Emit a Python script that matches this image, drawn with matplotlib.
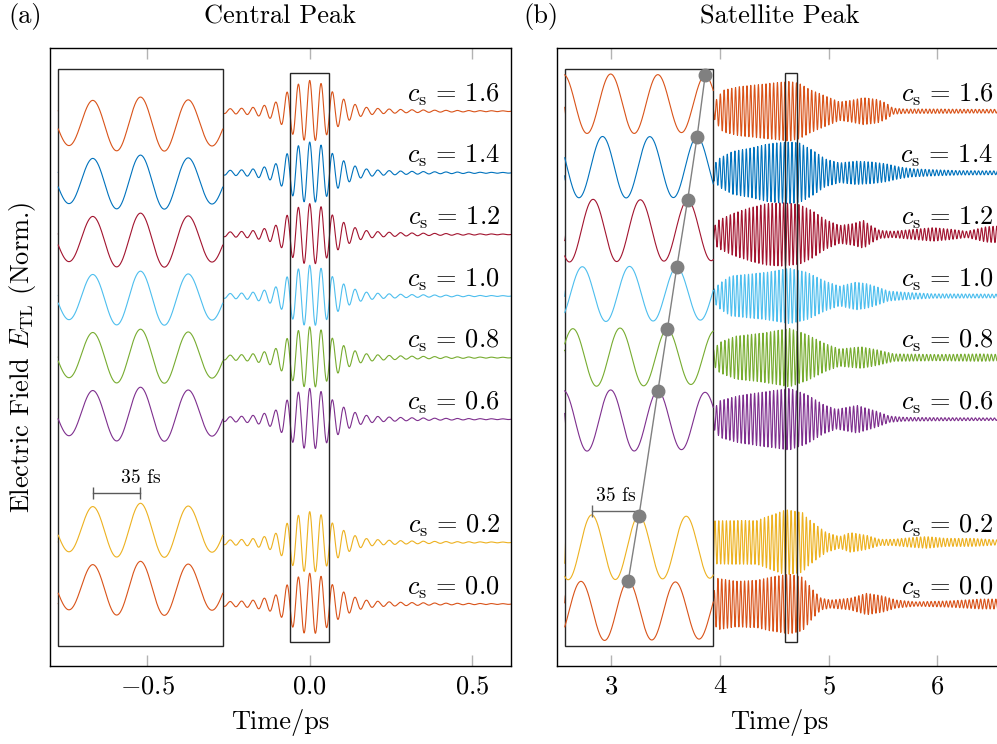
import numpy as np
import matplotlib
matplotlib.use('Agg')
import matplotlib.pyplot as plt
from matplotlib.patches import Rectangle

plt.rcParams['font.family'] = 'serif'
plt.rcParams['font.serif'] = ['cmr10']
plt.rcParams['mathtext.fontset'] = 'cm'
plt.rcParams['axes.unicode_minus'] = False

# THz carrier period in ps (35 fs)
period = 0.035

cs_values = [1.6, 1.4, 1.2, 1.0, 0.8, 0.6, 0.2, 0.0]
colors = ['#D95319', '#0072BD', '#A2142F', '#4DBEEE', '#77AC30', '#7E2F8E', '#EDB120', '#D95319']

# central peak envelope (normalised), same for every c_s
central_t = [-0.80, -0.50, -0.35, -0.25, -0.20, -0.17, -0.14, -0.11, -0.09, -0.07, -0.035, 0.0,
             0.035, 0.07, 0.09, 0.11, 0.13, 0.17, 0.22, 0.30, 0.40, 0.50, 0.62]
central_env = [0.02, 0.03, 0.05, 0.08, 0.10, 0.13, 0.19, 0.26, 0.40, 0.62, 0.88, 1.00,
               0.90, 0.63, 0.48, 0.36, 0.25, 0.13, 0.08, 0.05, 0.03, 0.02, 0.01]

# satellite peak envelopes, one per c_s
sat16_t = [3.94, 3.98, 4.03, 4.18, 4.37, 4.50, 4.64, 4.73, 4.83, 4.98, 5.10, 5.20, 5.32, 5.45, 5.53, 5.59, 5.70, 6.00, 6.30, 6.60]
sat16_a = [0.20, 0.45, 0.68, 0.80, 0.87, 0.92, 0.97, 0.90, 0.70, 0.48, 0.30, 0.35, 0.44, 0.38, 0.26, 0.10, 0.07, 0.07, 0.06, 0.06]
sat14_t = [3.94, 4.00, 4.12, 4.28, 4.43, 4.52, 4.64, 4.73, 4.85, 4.97, 5.10, 5.25, 5.40, 5.53, 5.65, 5.77, 5.96, 6.20, 6.60]
sat14_a = [0.25, 0.48, 0.70, 0.80, 0.93, 0.97, 1.00, 0.97, 0.74, 0.45, 0.32, 0.38, 0.35, 0.29, 0.19, 0.13, 0.10, 0.07, 0.06]
sat12_t = [3.94, 3.98, 4.12, 4.28, 4.43, 4.58, 4.73, 4.85, 4.97, 5.10, 5.22, 5.32, 5.40, 5.47, 5.59, 5.77, 5.96, 6.14, 6.27, 6.45, 6.60]
sat12_a = [0.20, 0.45, 0.68, 0.87, 1.00, 1.03, 0.97, 0.77, 0.48, 0.29, 0.35, 0.45, 0.26, 0.13, 0.10, 0.16, 0.22, 0.16, 0.10, 0.25, 0.28]
sat10_t = [3.94, 4.00, 4.10, 4.43, 4.64, 4.80, 4.97, 5.10, 5.25, 5.35, 5.45, 5.55, 5.70, 5.96, 6.60]
sat10_a = [0.20, 0.42, 0.65, 0.77, 0.90, 0.77, 0.48, 0.32, 0.45, 0.40, 0.29, 0.16, 0.12, 0.07, 0.06]
sat08_t = [3.94, 4.00, 4.15, 4.40, 4.64, 4.80, 4.97, 5.10, 5.30, 5.45, 5.60, 6.00, 6.40, 6.60]
sat08_a = [0.25, 0.50, 0.70, 0.80, 0.95, 0.75, 0.45, 0.28, 0.35, 0.25, 0.12, 0.10, 0.12, 0.10]
sat06_t = [3.94, 4.00, 4.18, 4.37, 4.64, 4.80, 4.95, 5.07, 5.26, 5.44, 5.56, 5.70, 6.00, 6.60]
sat06_a = [0.30, 0.60, 0.77, 0.87, 1.00, 0.80, 0.48, 0.32, 0.45, 0.26, 0.10, 0.06, 0.05, 0.04]
sat02_t = [3.94, 4.15, 4.34, 4.46, 4.61, 4.76, 4.80, 4.89, 4.98, 5.10, 5.20, 5.35, 5.47, 5.59, 5.77, 5.90, 6.08, 6.33, 6.60]
sat02_a = [0.70, 0.71, 0.71, 0.87, 1.06, 0.97, 0.80, 0.55, 0.32, 0.19, 0.32, 0.23, 0.10, 0.10, 0.16, 0.19, 0.13, 0.13, 0.07]
sat00_t = [3.94, 3.97, 4.15, 4.34, 4.46, 4.64, 4.76, 4.85, 4.93, 5.02, 5.20, 5.35, 5.50, 5.62, 5.80, 6.10, 6.40, 6.60]
sat00_a = [0.30, 0.84, 0.74, 0.77, 0.87, 0.97, 0.87, 0.48, 0.19, 0.13, 0.19, 0.35, 0.26, 0.13, 0.07, 0.10, 0.16, 0.16]

sat_t = [sat16_t, sat14_t, sat12_t, sat10_t, sat08_t, sat06_t, sat02_t, sat00_t]
sat_a = [sat16_a, sat14_a, sat12_a, sat10_a, sat08_a, sat06_a, sat02_a, sat00_a]

# time of the marked carrier maximum inside the satellite window (ps)
sat_peak_t = [4.704, 4.698, 4.691, 4.683, 4.676, 4.669, 4.655, 4.647]

left_ticks = [-0.5, 0.0, 0.5]
left_ticklabels = ['$-0.5$', '$0.0$', '$0.5$']
right_ticks = [3, 4, 5, 6]
right_ticklabels = ['$3$', '$4$', '$5$', '$6$']

amp = 0.5          # half the trace spacing
label_fs = 19


def field(t, t_knots, a_knots, t_peak):
    return np.interp(t, t_knots, a_knots) * np.cos(2 * np.pi * (t - t_peak) / period)


def to_inset(t, box, inset):
    # stretch times from the small box onto the width of the big inset box
    sx = (inset[1] - inset[0]) / (box[1] - box[0])
    bc = 0.5 * (box[0] + box[1])
    ic = 0.5 * (inset[0] + inset[1])
    return ic + (np.asarray(t) - bc) * sx


fig = plt.figure(figsize=(9.97, 7.44), dpi=100)
ax1 = fig.add_axes([50 / 997, 78 / 744, 461 / 997, 618 / 744])
ax2 = fig.add_axes([556.7 / 997, 78 / 744, 445.6 / 997, 618 / 744])

ylim = (-1.006, 9.026)
box_y = (-0.612, 8.615)
inset_y = (-0.677, 8.68)

# ---- (a) central peak ----
box1 = (-0.06, 0.06)
inset1 = (-0.7745, -0.268)
t1 = np.linspace(inset1[0], 0.62, 3000)
tb1 = np.linspace(box1[0], box1[1], 400)
for cs, c in zip(cs_values, colors):
    k = cs / 0.2
    ax1.plot(t1, k + amp * field(t1, central_t, central_env, 0.0), color=c, lw=0.8, zorder=1)
    yb = field(tb1, central_t, central_env, 0.0)
    ax1.plot(to_inset(tb1, box1, inset1), 0.244 + 0.942 * k + 0.9 * amp * yb,
             color=c, lw=0.8, zorder=4)
    ax1.text(0.5855, k + 0.16, r'$c_\mathrm{s} \,=\, %.1f$' % cs, ha='right', va='baseline',
             fontsize=label_fs, zorder=6)

ax1.add_patch(Rectangle((inset1[0], inset_y[0]), inset1[1] - inset1[0], inset_y[1] - inset_y[0],
                        facecolor='white', edgecolor='0.15', lw=1.0, zorder=3))
ax1.add_patch(Rectangle((box1[0], box_y[0]), box1[1] - box1[0], box_y[1] - box_y[0],
                        facecolor='none', edgecolor='0.15', lw=1.0, zorder=5))

# 35 fs scale bar between two inset maxima
bar_x = to_inset([-period, 0.0], box1, inset1)
ax1.plot(bar_x, [1.797, 1.797], color='0.35', lw=1.0, marker='|', ms=9, mew=1.0, zorder=6)
ax1.text(bar_x[1], 2.05, '35 fs', ha='center', va='center', fontsize=14, zorder=6)

ax1.set_xlim(-0.8, 0.62)
ax1.set_ylim(*ylim)
ax1.set_xticks(left_ticks)
ax1.set_xticklabels(left_ticklabels)
ax1.set_title('Central Peak', fontsize=label_fs, pad=18)
ax1.set_xlabel('Time/ps', fontsize=label_fs, labelpad=8)
ax1.set_ylabel(r'Electric Field $E_{\mathrm{TL}}$ (Norm.)', fontsize=label_fs, labelpad=9)

# ---- (b) satellite peak ----
box2 = (4.60, 4.71)
inset2 = (2.574, 3.939)
t2 = np.arange(inset2[0], 6.65, 0.0012)
tb2 = np.linspace(box2[0], box2[1], 400)
dots_x, dots_y = [], []
for cs, c, tk, ak, tp in zip(cs_values, colors, sat_t, sat_a, sat_peak_t):
    k = cs / 0.2
    ax2.plot(t2, k + amp * field(t2, tk, ak, tp), color=c, lw=0.8, zorder=1)
    yb = field(tb2, tk, ak, tp)
    base = -0.109 + 1.0286 * k
    ax2.plot(to_inset(tb2, box2, inset2), base + amp * yb, color=c, lw=0.8, zorder=4)
    dots_x.append(float(to_inset(tp, box2, inset2)))
    dots_y.append(base + amp * field(tp, tk, ak, tp))
    ax2.text(6.513, k + 0.16, r'$c_\mathrm{s} \,=\, %.1f$' % cs, ha='right', va='baseline',
             fontsize=label_fs, zorder=6)

ax2.add_patch(Rectangle((inset2[0], inset_y[0]), inset2[1] - inset2[0], inset_y[1] - inset_y[0],
                        facecolor='white', edgecolor='0.15', lw=1.0, zorder=3))
ax2.add_patch(Rectangle((box2[0], box_y[0]), box2[1] - box2[0], box_y[1] - box_y[0],
                        facecolor='none', edgecolor='0.15', lw=1.0, zorder=5))
ax2.plot(dots_x, dots_y, color='0.5', lw=1.0, marker='o', ms=9, zorder=7)

# 35 fs bar ending on the c_s = 0.2 marker
bx = dots_x[6]
sx2 = (inset2[1] - inset2[0]) / (box2[1] - box2[0])
ax2.plot([bx - period * sx2, bx], [1.51, 1.51], color='0.4', lw=1.0, zorder=6)
ax2.plot([bx - period * sx2], [1.51], color='0.4', marker='|', ms=9, mew=1.0, zorder=6)
ax2.text(bx - 0.5 * period * sx2, 1.75, '35 fs', ha='center', va='center', fontsize=14, zorder=6)

ax2.set_xlim(2.5, 6.596)
ax2.set_ylim(*ylim)
ax2.set_xticks(right_ticks)
ax2.set_xticklabels(right_ticklabels)
ax2.set_title('Satellite Peak', fontsize=label_fs, pad=18)
ax2.set_xlabel('Time/ps', fontsize=label_fs, labelpad=8)

for ax in (ax1, ax2):
    ax.set_yticks([])
    ax.tick_params(axis='x', direction='in', top=True, length=8, width=1.0, color='0.7',
                   labelsize=label_fs, pad=6)
    for s in ax.spines.values():
        s.set_linewidth(1.0)

fig.text(8 / 997, 1 - 23 / 744, '(a)', fontsize=label_fs, va='baseline')
fig.text(523 / 997, 1 - 23 / 744, '(b)', fontsize=label_fs, va='baseline')

fig.savefig('out.png', dpi=100)
